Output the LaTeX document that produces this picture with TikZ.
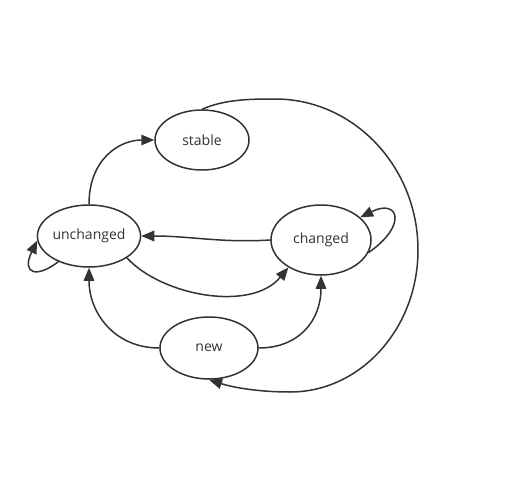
\documentclass[tikz,border=0pt]{standalone}
\usepackage{fontspec}
\setmainfont{Open Sans}
\usetikzlibrary{shapes.geometric, arrows.meta}

\begin{document}
\begin{tikzpicture}[x = 1pt, y = -1pt, line width = 1.5pt, color = black!80,
                    > = {Triangle[length = 13pt, width = 10.5pt]},
                    state/.style = {ellipse, draw, inner sep = 0pt,
                                    font = \fontsize{14}{16}\selectfont}]
    \useasboundingbox (0, 0) rectangle (523, 501);

    \node [state, minimum width = 94pt, minimum height = 60pt] (stable) at (202, 140){stable};
    \node [state, minimum width = 96pt, minimum height = 62pt] (unchanged) at (89, 236){unchanged};
    \node [state, minimum width = 100pt, minimum height = 70pt] (changed) at (321, 240){changed};
    \node [state, minimum width = 98pt, minimum height = 62pt] (new) at (209, 348){new};

    \draw[->] (unchanged.north) .. controls +(0, -45) and +(-35, 0) .. (stable.west);
    \draw[->] (changed.west) .. controls +(-50, 3) and +(50, 0) .. (unchanged.east);
    \draw[->] (unchanged.-30) .. controls +(35, 38) and +(-37, 45) .. (changed.-140);
    \draw[->] (new.west) .. controls +(-45, 0) and +(0, 45) .. (unchanged.south);
    \draw[->] (new.east) .. controls +(40, 0) and +(0, 45) .. (changed.south);
    \draw[->] (stable.north) .. controls +(23, -10) and +(-25, 0) .. (275, 99)
                             .. controls +(79, 0) and +(0, -83) .. (418, 250)
                             .. controls +(0, 78) and +(71, 0) .. (290, 392)
                             .. controls +(-30, 0) and +(25, 8) .. (new.south);
    \draw[->] (changed.-15) .. controls +(40, -28) and +(38, -19) .. (changed.30);
    \draw[->] (unchanged.220) .. controls +(-22, 17) and +(-16, 33) .. (unchanged.185);
\end{tikzpicture}
\end{document}
